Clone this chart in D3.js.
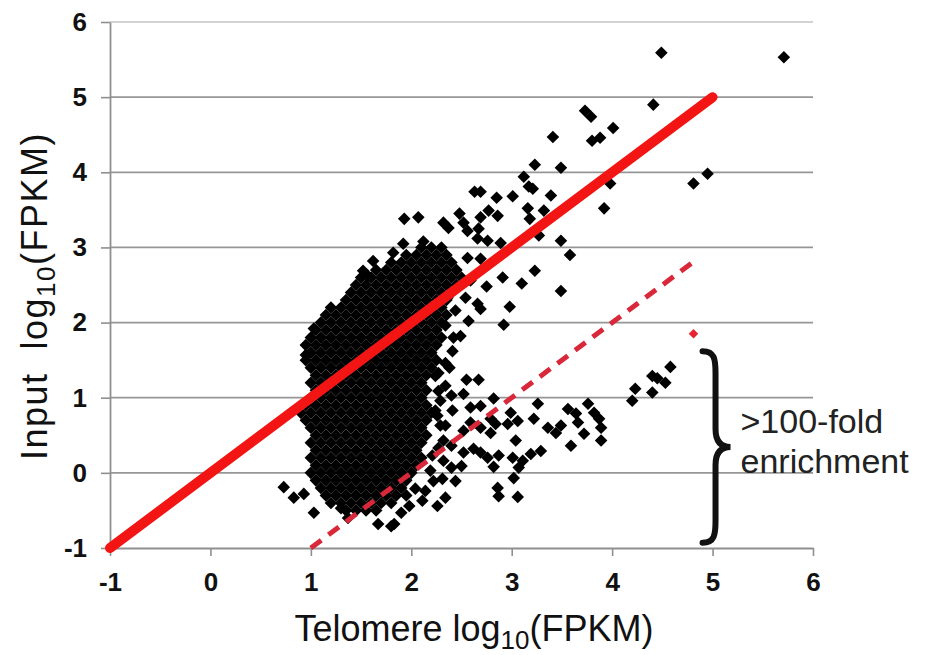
<!DOCTYPE html>
<html>
<head>
<meta charset="utf-8">
<script src="https://cdn.jsdelivr.net/npm/d3@7"></script>
<style>
  body { margin: 0; background: #fff; }
  svg { display: block; }
</style>
</head>
<body>
<div id="chart"></div>
<script>
// tick values on both axes
const xTicks = [-1, 0, 1, 2, 3, 4, 5, 6];
const yTicks = [-1, 0, 1, 2, 3, 4, 5, 6];

// the dense core of the cloud, read row by row: [input, "telomere values"]
const blobRows = [
  [3.0, "2.1 2.2 2.3"],
  [2.9, "1.95 2.05 2.15 2.25 2.35"],
  [2.8, "1.8 1.9 2.0 2.1 2.2 2.3 2.4"],
  [2.7, "1.65 1.75 1.85 1.95 2.05 2.15 2.25 2.35 2.45"],
  [2.6, "1.5 1.6 1.7 1.8 1.9 2.0 2.1 2.2 2.3 2.4 2.5"],
  [2.5, "1.45 1.55 1.65 1.75 1.85 1.95 2.05 2.15 2.25 2.35 2.45"],
  [2.4, "1.4 1.5 1.6 1.7 1.8 1.9 2.0 2.1 2.2 2.3 2.4"],
  [2.3, "1.35 1.45 1.55 1.65 1.75 1.85 1.95 2.05 2.15 2.25 2.35"],
  [2.2, "1.2 1.3 1.4 1.5 1.6 1.7 1.8 1.9 2.0 2.1 2.2 2.3"],
  [2.1, "1.15 1.25 1.35 1.45 1.55 1.65 1.75 1.85 1.95 2.05 2.15 2.25 2.35"],
  [2.0, "1.1 1.2 1.3 1.4 1.5 1.6 1.7 1.8 1.9 2.0 2.1 2.2 2.3"],
  [1.9, "1.05 1.15 1.25 1.35 1.45 1.55 1.65 1.75 1.85 1.95 2.05 2.15 2.25"],
  [1.8, "1.0 1.1 1.2 1.3 1.4 1.5 1.6 1.7 1.8 1.9 2.0 2.1 2.2 2.3"],
  [1.7, "0.95 1.05 1.15 1.25 1.35 1.45 1.55 1.65 1.75 1.85 1.95 2.05 2.15 2.25"],
  [1.6, "1.0 1.1 1.2 1.3 1.4 1.5 1.6 1.7 1.8 1.9 2.0 2.1 2.2"],
  [1.5, "0.95 1.05 1.15 1.25 1.35 1.45 1.55 1.65 1.75 1.85 1.95 2.05 2.15 2.25"],
  [1.4, "1.0 1.1 1.2 1.3 1.4 1.5 1.6 1.7 1.8 1.9 2.0 2.1 2.2"],
  [1.3, "1.05 1.15 1.25 1.35 1.45 1.55 1.65 1.75 1.85 1.95 2.05 2.15"],
  [1.2, "1.0 1.1 1.2 1.3 1.4 1.5 1.6 1.7 1.8 1.9 2.0 2.1"],
  [1.1, "1.05 1.15 1.25 1.35 1.45 1.55 1.65 1.75 1.85 1.95 2.05 2.15"],
  [1.0, "1.0 1.1 1.2 1.3 1.4 1.5 1.6 1.7 1.8 1.9 2.0 2.1"],
  [0.9, "0.95 1.05 1.15 1.25 1.35 1.45 1.55 1.65 1.75 1.85 1.95 2.05 2.15"],
  [0.8, "0.9 1.0 1.1 1.2 1.3 1.4 1.5 1.6 1.7 1.8 1.9 2.0 2.1 2.2"],
  [0.7, "0.95 1.05 1.15 1.25 1.35 1.45 1.55 1.65 1.75 1.85 1.95 2.05 2.15"],
  [0.6, "1.0 1.1 1.2 1.3 1.4 1.5 1.6 1.7 1.8 1.9 2.0 2.1"],
  [0.5, "1.05 1.15 1.25 1.35 1.45 1.55 1.65 1.75 1.85 1.95 2.05 2.15"],
  [0.4, "1.0 1.1 1.2 1.3 1.4 1.5 1.6 1.7 1.8 1.9 2.0 2.1"],
  [0.3, "1.05 1.15 1.25 1.35 1.45 1.55 1.65 1.75 1.85 1.95 2.05"],
  [0.2, "1.0 1.1 1.2 1.3 1.4 1.5 1.6 1.7 1.8 1.9 2.0 2.1"],
  [0.1, "1.05 1.15 1.25 1.35 1.45 1.55 1.65 1.75 1.85 1.95 2.05"],
  [0.0, "1.0 1.1 1.2 1.3 1.4 1.5 1.6 1.7 1.8 1.9 2.0"],
  [-0.1, "1.05 1.15 1.25 1.35 1.45 1.55 1.65 1.75 1.85 1.95"],
  [-0.2, "1.1 1.2 1.3 1.4 1.5 1.6 1.7 1.8 1.9"],
  [-0.3, "1.15 1.25 1.35 1.45 1.55 1.65 1.75 1.85 1.95"],
  [-0.4, "1.2 1.3 1.4 1.5 1.6 1.7 1.8"],
  [-0.5, "1.35 1.45 1.55 1.65"]
];

// scattered genes around the cloud [telomere, input]
const scatterPoints = [
  [4.49, 5.59], [5.71, 5.53], [4.41, 4.90], [3.73, 4.82], [3.79, 4.74], [4.01, 4.59],
  [3.41, 4.47], [3.80, 4.42], [3.88, 4.46], [3.23, 4.10], [3.49, 4.06], [4.95, 3.98],
  [4.81, 3.85], [3.12, 3.94], [3.17, 3.81], [3.21, 3.78], [2.63, 3.74], [2.69, 3.74],
  [2.85, 3.66], [3.01, 3.68], [3.39, 3.69], [3.98, 3.85], [3.92, 3.52], [3.16, 3.52],
  [3.18, 3.38], [3.32, 3.49], [1.93, 3.38], [2.07, 3.40], [2.48, 3.45], [2.52, 3.33],
  [2.32, 3.33], [2.37, 3.26], [2.77, 3.49], [2.86, 3.42], [2.69, 3.40], [2.56, 3.22],
  [2.67, 3.25], [1.92, 3.05], [2.12, 3.08], [1.82, 2.93], [3.49, 3.09], [3.58, 2.90],
  [3.23, 2.69], [2.66, 3.12], [2.76, 3.09], [2.89, 3.06], [3.27, 3.16], [2.91, 2.60],
  [2.56, 2.86], [2.69, 2.85], [2.75, 2.48], [3.10, 2.52], [3.49, 2.42], [2.66, 2.25],
  [2.69, 2.18], [2.98, 2.21], [2.54, 2.33], [2.92, 1.97], [1.62, 2.82], [1.52, 2.69],
  [1.57, 2.62], [2.59, 2.56], [2.57, 2.02], [2.49, 1.82], [2.41, 1.62], [2.34, 1.46],
  [2.36, 2.33], [2.44, 2.16], [2.34, 1.96], [2.42, 1.80],
  [2.38, 1.40], [2.55, 1.24], [2.67, 1.24], [2.40, 1.03], [2.52, 1.05], [2.82, 0.99],
  [3.26, 0.92], [3.76, 0.92], [2.59, 0.87], [2.69, 0.89], [2.99, 0.80], [3.56, 0.85],
  [3.64, 0.79], [3.82, 0.80], [3.87, 0.72], [3.22, 0.72], [2.79, 0.72], [2.84, 0.65],
  [2.96, 0.65], [3.06, 0.69], [3.36, 0.60], [3.44, 0.53], [3.49, 0.63], [3.66, 0.67],
  [3.72, 0.52], [3.89, 0.60], [3.89, 0.43], [2.69, 0.60], [2.59, 0.67], [2.52, 0.56],
  [2.79, 0.53], [3.04, 0.43], [3.59, 0.36], [2.32, 0.43], [2.40, 0.36], [2.52, 0.27],
  [2.62, 0.32], [2.69, 0.27], [2.76, 0.20], [2.87, 0.23], [3.01, 0.20], [3.11, 0.16],
  [3.19, 0.25], [3.29, 0.29], [3.07, 0.07], [2.82, 0.08], [2.50, 0.09], [2.32, 0.16],
  [2.40, 0.07], [3.02, -0.07], [2.86, -0.20], [2.87, -0.31], [3.06, -0.32], [2.34, -0.33],
  [2.26, -0.44], [2.11, -0.37], [2.22, -0.11], [2.31, -0.08], [2.04, -0.21], [1.83, -0.68],
  [2.24, 1.29], [2.27, 1.09], [2.24, 0.83], [2.29, 0.63], [2.21, 0.23], [2.27, 1.33],
  [2.34, 1.16], [2.29, 0.96], [2.41, 0.83], [2.26, 0.76], [2.34, 0.63], [2.27, 0.33],
  [2.19, 0.03], [2.44, -0.11], [2.14, -0.24], [1.98, -0.44], [1.90, -0.53],
  [0.73, -0.19], [0.83, -0.33], [0.93, -0.28], [1.03, -0.53], [1.30, -0.47], [1.37, -0.60],
  [1.67, -0.68], [1.80, -0.71], [1.03, 1.92], [0.95, 1.57],
  [4.58, 1.41], [4.40, 1.29], [4.45, 1.26], [4.53, 1.20], [4.40, 1.07], [4.23, 1.12],
  [4.20, 0.96]
];

// single red marker at the top of the brace
const highlightPoint = [[4.81, 1.85]];

// reference lines: y = x and the 100-fold line y = x - 2
const equalLine = [[-1, -1], [5, 5]];
const foldLine = [[1, -1], [4.85, 2.85]];

// vertical extent of the bracket (input units)
const braceSpan = [1.62, -0.93];
const braceX = 4.9;

const width = 925;
const height = 655;

const svg = d3.select("#chart").append("svg")
  .attr("width", width)
  .attr("height", height)
  .style("font-family", "'Liberation Sans', Arial, sans-serif");

const x = d3.scaleLinear().domain([-1, 6]).range([110, 813]);
const y = d3.scaleLinear().domain([-1, 6]).range([548, 22]);

// horizontal grid lines
svg.append("g")
  .selectAll("line")
  .data(yTicks.filter(d => d > -1))
  .enter().append("line")
  .attr("x1", x(-1))
  .attr("x2", x(6))
  .attr("y1", d => y(d))
  .attr("y2", d => y(d))
  .attr("stroke", d => d === 6 ? "#c4c4c4" : "#969696")
  .attr("stroke-width", 1.7);

// axes
const yAxis = svg.append("g")
  .attr("transform", `translate(${x(-1)},0)`)
  .call(d3.axisLeft(y).tickValues(yTicks).tickSize(9).tickSizeOuter(0)
    .tickPadding(14).tickFormat(d => String(d)));

const xAxis = svg.append("g")
  .attr("transform", `translate(0,${y(-1)})`)
  .call(d3.axisBottom(x).tickValues(xTicks).tickSize(8).tickSizeOuter(0)
    .tickPadding(17).tickFormat(d => String(d)));

[xAxis, yAxis].forEach(g => {
  g.select(".domain").attr("stroke", "#8f8f8f").attr("stroke-width", 1.8);
  g.selectAll(".tick line").attr("stroke", "#8f8f8f").attr("stroke-width", 1.6);
  g.selectAll(".tick text")
    .attr("fill", "#111")
    .style("font-size", "26px")
    .style("font-weight", "bold")
    .style("font-family", "'Liberation Sans', Arial, sans-serif");
});

// points
const allPoints = [];
blobRows.forEach(([yv, xs]) => {
  xs.split(" ").forEach(v => allPoints.push([+v, yv]));
});
scatterPoints.forEach(p => allPoints.push(p));

const diamond = d3.symbol().type(d3.symbolSquare).size(79);

svg.append("g")
  .selectAll("path")
  .data(allPoints)
  .enter().append("path")
  .attr("d", diamond)
  .attr("transform", d => `translate(${x(d[0])},${y(d[1])}) rotate(45)`)
  .attr("fill", "#000");

// reference lines
const line = d3.line().x(d => x(d[0])).y(d => y(d[1]));

svg.append("path")
  .datum(foldLine)
  .attr("d", line)
  .attr("fill", "none")
  .attr("stroke", "#d8283a")
  .attr("stroke-width", 5)
  .attr("stroke-dasharray", "13,9");

svg.append("path")
  .datum(equalLine)
  .attr("d", line)
  .attr("fill", "none")
  .attr("stroke", "#f31414")
  .attr("stroke-width", 10)
  .attr("stroke-linecap", "round");

svg.append("g")
  .selectAll("path")
  .data(highlightPoint)
  .enter().append("path")
  .attr("d", d3.symbol().type(d3.symbolSquare).size(45))
  .attr("transform", d => `translate(${x(d[0])},${y(d[1])}) rotate(45)`)
  .attr("fill", "#e8232f");

// bracket and its label
const bx = x(braceX);
const braceTop = y(braceSpan[0]);
const braceBot = y(braceSpan[1]);
const braceMid = (braceTop + braceBot) / 2;
svg.append("path")
  .attr("d", `M${bx},${braceTop} C${bx + 12},${braceTop} ${bx + 13},${braceTop + 8} ${bx + 13},${braceTop + 22}
    L${bx + 13},${braceMid - 18} C${bx + 13},${braceMid - 6} ${bx + 18},${braceMid} ${bx + 28},${braceMid}
    C${bx + 18},${braceMid} ${bx + 13},${braceMid + 6} ${bx + 13},${braceMid + 18}
    L${bx + 13},${braceBot - 22} C${bx + 13},${braceBot - 8} ${bx + 12},${braceBot} ${bx},${braceBot}`)
  .attr("fill", "none")
  .attr("stroke", "#111")
  .attr("stroke-width", 6)
  .attr("stroke-linecap", "round");

const note = svg.append("text")
  .attr("x", bx + 38)
  .attr("y", braceMid - 14)
  .attr("fill", "#222")
  .style("font-size", "34px");
note.append("tspan").attr("x", bx + 38).text(">100-fold");
note.append("tspan").attr("x", bx + 38).attr("dy", 40).text("enrichment");

// axis titles
const xTitle = svg.append("text")
  .attr("x", 474)
  .attr("y", 641)
  .attr("text-anchor", "middle")
  .attr("fill", "#111")
  .style("font-size", "36px");
xTitle.append("tspan").text("Telomere log");
xTitle.append("tspan").attr("dy", 8).style("font-size", "26px").text("10");
xTitle.append("tspan").attr("dy", -8).text("(FPKM)");

const yTitle = svg.append("text")
  .attr("transform", "translate(47,296) rotate(-90)")
  .attr("text-anchor", "middle")
  .attr("fill", "#111")
  .style("font-size", "36px")
  .style("letter-spacing", "1.5px");
yTitle.append("tspan").text("Input\u00a0\u00a0log");
yTitle.append("tspan").attr("dy", 8).style("font-size", "26px").text("10");
yTitle.append("tspan").attr("dy", -8).text("(FPKM)");
</script>
</body>
</html>
